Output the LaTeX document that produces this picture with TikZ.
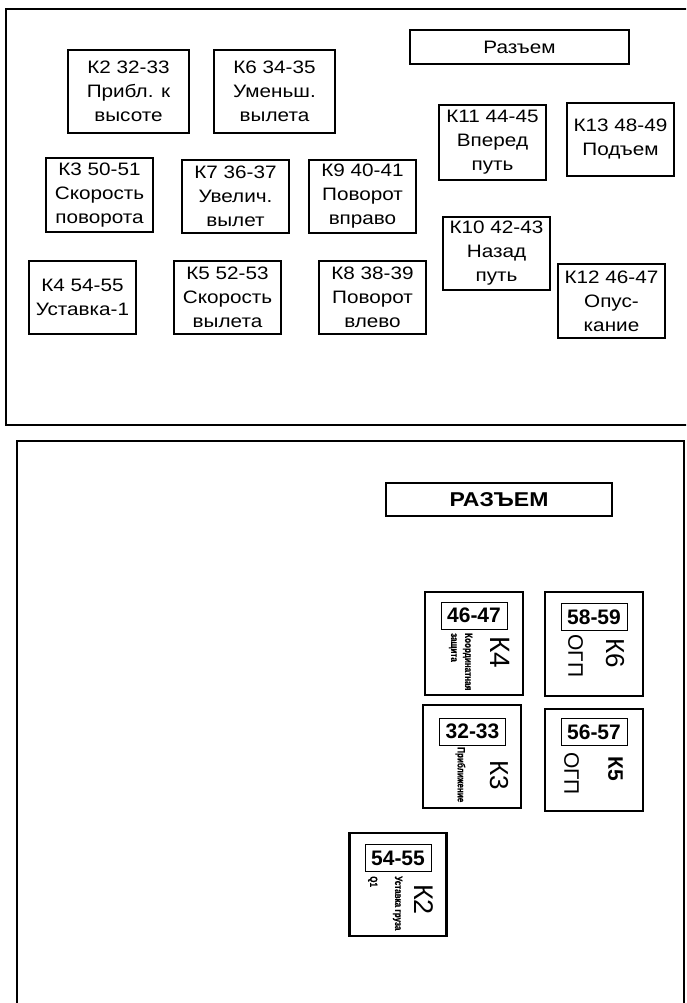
\documentclass[tikz,border=0pt]{standalone}
\usepackage{fontspec}
\setmainfont{Liberation Sans}
\newfontfamily\widefont{Liberation Sans}[FakeStretch=1.15]
\newfontfamily\narrowfont{Liberation Sans}[FakeStretch=0.77,FakeBold=0.6]
\begin{document}
\begin{tikzpicture}[x=1pt,y=-1pt,
  frame/.style={line width=2.4pt},
  topbox/.style={draw, line width=2pt, inner sep=0pt, align=center,
    font=\widefont\fontsize{18}{24}\selectfont},
  botbox/.style={draw, line width=2.6pt, inner sep=0pt},
  numbox/.style={draw, line width=0.9pt, inner sep=0pt, minimum width=66pt,
    minimum height=27pt, font=\bfseries\fontsize{21}{21}\selectfont},
  bigrot/.style={rotate=-90, inner sep=0pt},
  smallrot/.style={rotate=-90, inner sep=0pt, align=left, anchor=north west,
    font=\narrowfont\bfseries\fontsize{10.5}{14}\selectfont}]
\useasboundingbox (0,0) rectangle (686,1003);
\clip (0,0) rectangle (686,1003);
\fill[white] (0,0) rectangle (686,1003);
% panels
\draw[frame] (700,9) -- (6,9) -- (6,425) -- (700,425);
\draw[frame] (17,1010) -- (17,441) -- (684,441) -- (684,1010);
% top panel
\node[topbox, minimum width=219pt, minimum height=34pt] (conn1) at (519.5,47) {Разъем};
\node[topbox, minimum width=121pt, minimum height=83pt] (k2) at (128.5,91.5) {К2 32-33\\Прибл. к\\высоте};
\node[topbox, minimum width=121pt, minimum height=83pt] (k6) at (274.5,91.5) {К6 34-35\\Уменьш.\\вылета};
\node[topbox, minimum width=107pt, minimum height=75pt] (k11) at (492.5,142.5) {К11 44-45\\Вперед\\путь};
\node[topbox, minimum width=107pt, minimum height=73pt] (k13) at (620.5,139.5) {К13 48-49\\Подъем};
\node[topbox, minimum width=107pt, minimum height=74pt] (k3) at (99.5,195) {К3 50-51\\Скорость\\поворота};
\node[topbox, minimum width=107pt, minimum height=73pt] (k7) at (235.5,196.5) {К7 36-37\\Увелич.\\вылет};
\node[topbox, minimum width=107pt, minimum height=73pt] (k9) at (362.5,196.5) {К9 40-41\\Поворот\\вправо};
\node[topbox, minimum width=107pt, minimum height=73pt] (k10) at (496.5,253.5) {К10 42-43\\Назад\\путь};
\node[topbox, minimum width=107pt, minimum height=73pt] (k4) at (82.5,297.5) {К4 54-55\\Уставка-1};
\node[topbox, minimum width=107pt, minimum height=73pt] (k5) at (227.5,297.5) {К5 52-53\\Скорость\\вылета};
\node[topbox, minimum width=107pt, minimum height=73pt] (k8) at (372.5,297.5) {К8 38-39\\Поворот\\влево};
\node[topbox, minimum width=107pt, minimum height=74pt] (k12) at (611.5,301) {К12 46-47\\Опус-\\кание};
% bottom panel
\node[draw, line width=2pt, minimum width=226pt, minimum height=33pt, inner sep=0pt,
  font=\widefont\bfseries\fontsize{20}{20}\selectfont] (conn2) at (499,499.5) {РАЗЪЕМ};
\node[botbox, minimum width=98pt, minimum height=103pt] (b4) at (474,643.5) {};
\node[numbox] (n4) at (474,615.5) {46-47};
\node[bigrot, font=\fontsize{28}{28}\selectfont] (t4) at (500,652) {К4};
\node[smallrot] (s4) at (472.5,633) {Координатная\\защита};
\node[botbox, minimum width=98pt, minimum height=104pt] (b6) at (594,644) {};
\node[numbox] (n6) at (594,617) {58-59};
\node[bigrot, font=\fontsize{26}{26}\selectfont] (t6) at (615,653) {К6};
\node[bigrot, font=\fontsize{21}{21}\selectfont] (o6) at (575.5,656) {ОГП};
\node[botbox, minimum width=98pt, minimum height=103pt] (b3) at (472,756.5) {};
\node[numbox] (n3) at (472.5,731.5) {32-33};
\node[bigrot, font=\fontsize{26}{26}\selectfont] (t3) at (499,775) {К3};
\node[smallrot] (s3) at (465.5,747) {Приближение};
\node[botbox, minimum width=98pt, minimum height=102pt] (b5) at (594,760) {};
\node[numbox] (n5) at (594,732) {56-57};
\node[bigrot, font=\bfseries\fontsize{21}{21}\selectfont] (t5) at (615.5,769) {К5};
\node[bigrot, font=\fontsize{21}{21}\selectfont] (o5) at (571.5,773.5) {ОГП};
\node[botbox, minimum width=97pt, minimum height=103pt] (b2) at (398,884.5) {};
\node[numbox] (n2) at (398,858) {54-55};
\node[bigrot, font=\fontsize{27}{27}\selectfont] (t2) at (424,899.5) {К2};
\node[smallrot, font=\narrowfont\bfseries\fontsize{10.5}{25}\selectfont] (s2) at (402.5,876) {Уставка груза\\Q1};
\end{tikzpicture}
\end{document}
